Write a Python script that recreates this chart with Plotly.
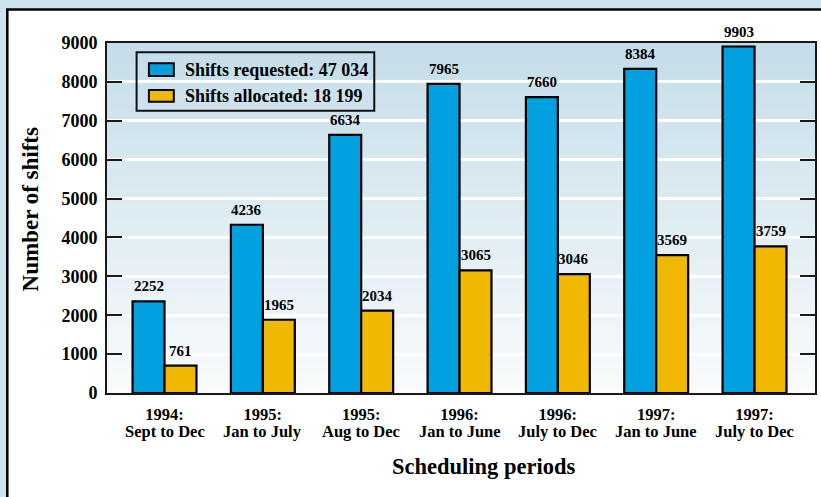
import plotly.graph_objects as go

# ---- data ----
period_years = ["1994:", "1995:", "1995:", "1996:", "1996:", "1997:", "1997:"]
period_spans = ["Sept to Dec", "Jan to July", "Aug to Dec", "Jan to June",
                "July to Dec", "Jan to June", "July to Dec"]
series_names = ["Shifts requested: 47 034", "Shifts allocated: 18 199"]
# value labels printed above the bars
requested_labels = [2252, 4236, 6634, 7965, 7660, 8384, 9903]
allocated_labels = [761, 1965, 2034, 3065, 3046, 3569, 3759]
# bar heights as drawn in the picture
requested_drawn = [2355, 4327, 6640, 7951, 7609, 8337, 8910]
allocated_drawn = [702, 1884, 2116, 3152, 3059, 3547, 3769]
y_ticks = [0, 1000, 2000, 3000, 4000, 5000, 6000, 7000, 8000, 9000]

BLUE = "#00a1de"
GOLD = "#f1b800"
FONT = "Liberation Serif"

cats = list(range(len(period_years)))

fig = go.Figure()
fig.add_trace(go.Bar(x=cats, y=requested_drawn, name=series_names[0],
                     marker=dict(color=BLUE, line=dict(color="black", width=2.2)),
                     showlegend=False, hoverinfo="skip"))
fig.add_trace(go.Bar(x=cats, y=allocated_drawn, name=series_names[1],
                     marker=dict(color=GOLD, line=dict(color="black", width=2.2)),
                     showlegend=False, hoverinfo="skip"))

BARGAP = 0.35
half = (1 - BARGAP) / 4  # offset of each bar centre from category centre

annotations = []
for i, (yv, lab) in enumerate(zip(requested_drawn, requested_labels)):
    annotations.append(dict(x=i - half, y=yv, xref="x", yref="y", text=str(lab),
                            showarrow=False, yanchor="bottom", yshift=5,
                            font=dict(family=FONT, size=15, weight="bold", color="black")))
for i, (yv, lab) in enumerate(zip(allocated_drawn, allocated_labels)):
    annotations.append(dict(x=i + half, y=yv, xref="x", yref="y", text=str(lab),
                            showarrow=False, yanchor="bottom", yshift=5,
                            font=dict(family=FONT, size=15, weight="bold", color="black")))

# second line of category labels
for i, span in enumerate(period_spans):
    annotations.append(dict(x=i, y=0, xref="x", yref="paper", text=span,
                            showarrow=False, yanchor="top", yshift=-28, borderpad=0,
                            font=dict(family=FONT, size=16.5, weight="bold", color="black")))

# axis titles
annotations.append(dict(x=0.532, y=-0.2086, xref="paper", yref="paper",
                        text="Scheduling periods", showarrow=False,
                        xanchor="center", yanchor="middle",
                        font=dict(family=FONT, size=22.5, weight="bold", color="black")))
annotations.append(dict(x=-0.1085, y=0.525, xref="paper", yref="paper",
                        text="Number of shifts", showarrow=False, textangle=-90,
                        xanchor="center", yanchor="middle",
                        font=dict(family=FONT, size=23, weight="bold", color="black")))

# custom legend text
legend_y = [0.9229, 0.8486]
for name, ly in zip(series_names, legend_y):
    annotations.append(dict(x=0.107, y=ly, xref="paper", yref="paper", text=name,
                            showarrow=False, xanchor="left", yanchor="middle",
                            font=dict(family=FONT, size=18, weight="bold", color="black")))

shapes = []
# white panel with black frame
shapes.append(dict(type="rect", xref="paper", yref="paper",
                   x0=-0.1408, x1=1.05, y0=-0.4, y1=1.0957,
                   fillcolor="white", line=dict(color="black", width=2.5), layer="below"))
# gradient plot background
N = 70
top = (196, 221, 233)
bot = (249, 251, 252)
for k in range(N):
    t = (k + 0.5) / N  # 0 bottom -> 1 top
    c = tuple(round(bot[j] + (top[j] - bot[j]) * t) for j in range(3))
    shapes.append(dict(type="rect", xref="paper", yref="paper",
                       x0=0, x1=1, y0=k / N, y1=(k + 1) / N + 0.002,
                       fillcolor=f"rgb{c}", line=dict(width=0), layer="below"))
# legend box and swatches
shapes.append(dict(type="rect", xref="paper", yref="paper",
                   x0=0.0418, x1=0.3775, y0=0.8066, y1=0.9734,
                   fillcolor="rgba(0,0,0,0)", line=dict(color="#111", width=2), layer="above"))
shapes.append(dict(type="rect", xref="paper", yref="paper",
                   x0=0.0592, x1=0.0944, y0=0.9057, y1=0.942,
                   fillcolor=BLUE, line=dict(color="black", width=2), layer="above"))
shapes.append(dict(type="rect", xref="paper", yref="paper",
                   x0=0.0592, x1=0.0944, y0=0.8323, y1=0.8657,
                   fillcolor=GOLD, line=dict(color="black", width=2), layer="above"))

fig.update_layout(
    width=821, height=497,
    margin=dict(l=107, r=4, t=43, b=104),
    paper_bgcolor="#cde3ee",
    plot_bgcolor="rgba(0,0,0,0)",
    barmode="group", bargap=BARGAP, bargroupgap=0,
    font=dict(family=FONT, color="black", weight="bold"),
    annotations=annotations,
    shapes=shapes,
    showlegend=False,
)
fig.update_xaxes(
    range=[-0.585, 6.615], tickmode="array", tickvals=cats, ticktext=period_years,
    tickfont=dict(family=FONT, size=16.5, weight="bold", color="black"),
    showline=True, linecolor="#1a1a1a", linewidth=2, mirror=True,
    showgrid=False, zeroline=False, ticks="", fixedrange=True,
    ticklabelstandoff=5,
)
fig.update_yaxes(
    range=[0, 9000], tickmode="array", tickvals=y_ticks,
    ticktext=[str(v) for v in y_ticks],
    tickfont=dict(family=FONT, size=18, weight="bold", color="black"),
    showline=True, linecolor="#1a1a1a", linewidth=2, mirror="ticks",
    ticks="inside", ticklen=15, tickwidth=2, tickcolor="#1a1a1a",
    showgrid=True, gridcolor="white", gridwidth=2.5, zeroline=False,
    ticklabelstandoff=4, fixedrange=True,
)

fig.write_html("out.html", config={"displayModeBar": False},
               post_script="document.body.style.margin='0';document.body.style.overflow='hidden';")
